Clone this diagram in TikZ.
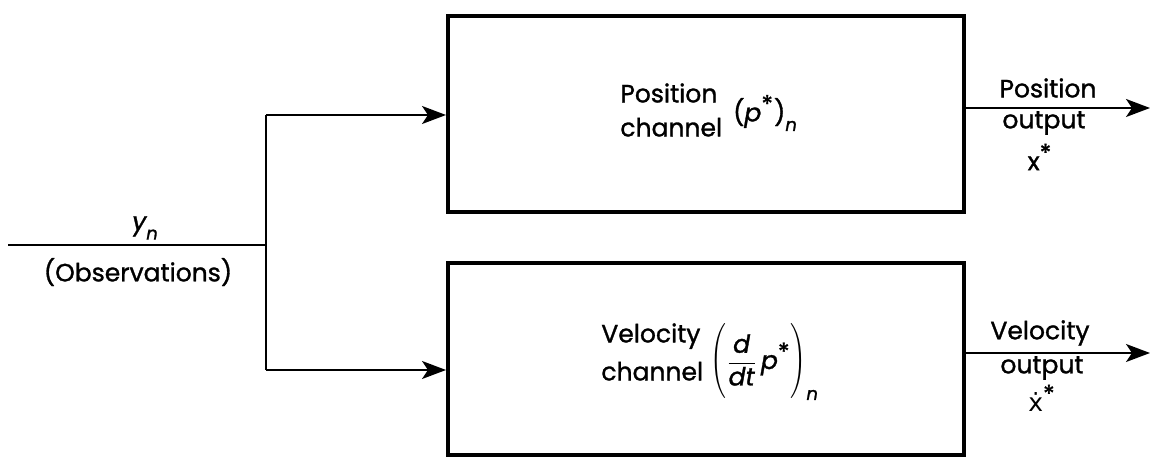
\documentclass[tikz,border=0pt]{standalone}
\usepackage{fontspec}
\setmainfont{Poppins}[FakeBold=1.2]
\newfontfamily\dejavu{DejaVu Sans}
\usetikzlibrary{arrows.meta}
\newcommand\mi[1]{{\itshape #1}}
\newcommand\bigstar{\textsuperscript{\large *}}
\begin{document}
\begin{tikzpicture}[x=0.5pt,y=-0.5pt,
  font=\fontsize{12.5}{17}\selectfont,
  chanbox/.style={draw,line width=2pt,minimum width=258pt,minimum height=98pt,inner sep=0pt},
  sig/.style={line width=1pt},
  arr/.style={sig,-{Stealth[length=12pt,width=9pt,inset=3pt]}},
  lbl/.style={inner sep=0pt,align=center}]
\useasboundingbox (0,0) rectangle (1156,459);
\node[chanbox] (top) at (706,114) {};
\node[chanbox,minimum height=96pt] (bot) at (706,359) {};
% labels inside boxes
\node[lbl,align=left,anchor=west] (ptxt) at (620,110) {Position\\channel};
\node[lbl] (pexp) at (765,113) {(\mi{p}\bigstar)\raisebox{-0.7ex}{\small\mi{n}}};
\node[lbl,align=left,anchor=west] (vtxt) at (601,352) {Velocity\\[2pt]channel};
\node[lbl,anchor=west] (vexp) at (710,362) {$\displaystyle\scalebox{1}[1.25]{$\Bigg($}\frac{\mbox{\mi{d}}}{\mbox{\mi{dt}}}\,\mbox{\mi{p}\bigstar}\scalebox{1}[1.25]{$\Bigg)$}_{\mbox{\small\mi{n}}}$};
% input
\coordinate (in) at (8,245);
\coordinate (split) at (266,245);
\coordinate (jt) at (266,115);
\coordinate (jb) at (266,370);
\draw[sig] (in) -- (split);
\draw[sig] (jt) -- (jb);
\draw[arr] (jt) -- (jt -| top.west);
\draw[arr] (jb) -- (jb -| bot.west);
\node[lbl] (yn) at (145,228) {\mi{y}\raisebox{-0.7ex}{\small\mi{n}}};
\node[lbl] (obs) at (138,272) {(Observations)};
% outputs
\coordinate (ot) at (1150,108);
\coordinate (ob) at (1150,353);
\draw[arr] (top.east |- ot) -- (ot);
\draw[arr] (bot.east |- ob) -- (ob);
\node[lbl] (pout) at (1048,88) {Position};
\node[lbl] (pout2) at (1044,123) {output};
\node[lbl] (pout3) at (1040,157) {x\bigstar};
\node[lbl] (vout) at (1040,333) {Velocity};
\node[lbl] (vout2) at (1042,368) {output};
\node[lbl] (vout3) at (1042,398) {{\dejavu ẋ}\bigstar};
\end{tikzpicture}
\end{document}
